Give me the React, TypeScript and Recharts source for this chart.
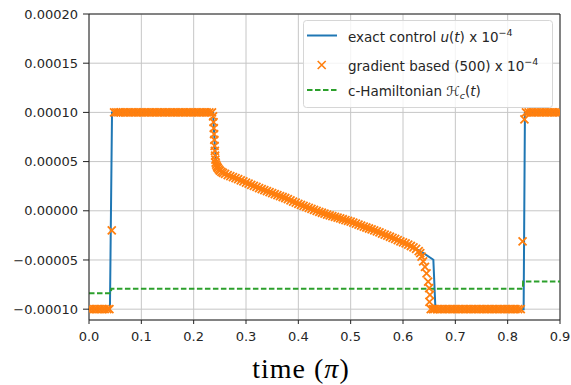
import React from 'react';
import {
  ComposedChart,
  Line,
  Scatter,
  XAxis,
  YAxis,
  CartesianGrid,
  Legend,
  ReferenceLine,
  Label,
} from 'recharts';

// tick labels
const xTicks = [0, 0.1, 0.2, 0.3, 0.4, 0.5, 0.6, 0.7, 0.8, 0.9];
const yTicks = [-0.0001, -0.00005, 0, 0.00005, 0.0001, 0.00015, 0.0002];

// values are given in units of 1e-5
const UNIT = 1e-5;

// exact control u(t) x 1e-4
const exactT = [0, 0.04, 0.044, 0.237, 0.2405, 0.2435, 0.247, 0.26, 0.3, 0.35, 0.4, 0.45, 0.5, 0.55, 0.6, 0.625, 0.639, 0.658, 0.662, 0.8305, 0.833, 0.9];
const exactV = [-10, -10, 10, 10, 6.5, 4.7, 4.3, 3.75, 2.86, 1.8, 0.7, -0.3, -1.1, -2.1, -3.2, -3.88, -4.3, -4.98, -10, -10, 10, 10];

// gradient based (500) x 1e-4
const gradT = [
  0, 0.005, 0.01, 0.015, 0.02, 0.025, 0.03, 0.035, 0.039,
  0.0435,
  0.048, 0.052, 0.056, 0.06, 0.065, 0.07, 0.075, 0.08, 0.085, 0.09, 0.095, 0.1, 0.105, 0.11, 0.115, 0.12, 0.125, 0.13, 0.135, 0.14,
  0.145, 0.15, 0.155, 0.16, 0.165, 0.17, 0.175, 0.18, 0.185, 0.19, 0.195, 0.2, 0.205, 0.21, 0.215, 0.22, 0.225, 0.23, 0.235,
  0.237, 0.238, 0.2385, 0.239, 0.2395, 0.24, 0.2405, 0.241, 0.2415, 0.242, 0.243, 0.2445,
  0.246, 0.248, 0.25, 0.253, 0.256, 0.26, 0.265, 0.27, 0.275, 0.28, 0.285, 0.29, 0.295, 0.3, 0.305, 0.31, 0.315, 0.32, 0.325,
  0.33, 0.335, 0.34, 0.345, 0.35, 0.355, 0.36, 0.365, 0.37, 0.375, 0.38, 0.385, 0.39, 0.395, 0.4, 0.405, 0.41, 0.415, 0.42,
  0.425, 0.43, 0.435, 0.44, 0.445, 0.45, 0.455, 0.46, 0.465, 0.47, 0.475, 0.48, 0.485, 0.49, 0.495, 0.5, 0.505, 0.51, 0.515,
  0.52, 0.525, 0.53, 0.535, 0.54, 0.545, 0.55, 0.555, 0.56, 0.565, 0.57, 0.575, 0.58, 0.585, 0.59, 0.595, 0.6, 0.605, 0.61,
  0.615, 0.62, 0.625, 0.63, 0.633,
  0.6355, 0.6385, 0.642, 0.645, 0.648, 0.65, 0.6515, 0.6505,
  0.653, 0.657, 0.66, 0.665, 0.67, 0.675, 0.68, 0.685, 0.69, 0.695, 0.7, 0.705, 0.71, 0.715, 0.72, 0.725, 0.73, 0.735, 0.74,
  0.745, 0.75, 0.755, 0.76, 0.765, 0.77, 0.775, 0.78, 0.785, 0.79, 0.795, 0.8, 0.805, 0.81, 0.815, 0.82, 0.825,
  0.8285, 0.832,
  0.835, 0.84, 0.845, 0.85, 0.855, 0.86, 0.865, 0.87, 0.875, 0.88, 0.885, 0.89, 0.895, 0.9,
];
const gradV = [
  -10, -10, -10, -10, -10, -10, -10, -10, -10,
  -2.0,
  10, 10, 10, 10, 10, 10, 10, 10, 10, 10, 10, 10, 10, 10, 10, 10, 10, 10, 10, 10,
  10, 10, 10, 10, 10, 10, 10, 10, 10, 10, 10, 10, 10, 10, 10, 10, 10, 10, 10,
  9.6, 9.0, 8.4, 7.8, 7.2, 6.6, 6.1, 5.6, 5.2, 4.9, 4.7, 4.5,
  4.35, 4.2, 4.08, 3.95, 3.85, 3.75, 3.63, 3.52, 3.42, 3.32, 3.22, 3.1, 2.98, 2.86, 2.75, 2.64, 2.53, 2.42, 2.31,
  2.2, 2.1, 2.0, 1.9, 1.8, 1.7, 1.6, 1.5, 1.4, 1.3, 1.18, 1.06, 0.94, 0.82, 0.7, 0.6, 0.5, 0.4, 0.3,
  0.2, 0.1, 0.0, -0.1, -0.2, -0.3, -0.38, -0.46, -0.54, -0.62, -0.7, -0.78, -0.86, -0.94, -1.02, -1.1, -1.2, -1.3, -1.4,
  -1.5, -1.6, -1.7, -1.8, -1.9, -2.0, -2.1, -2.2, -2.31, -2.42, -2.53, -2.64, -2.75, -2.86, -2.98, -3.1, -3.2, -3.32, -3.45,
  -3.58, -3.72, -3.88, -4.1, -4.3,
  -4.65, -5.15, -5.7, -6.35, -7.2, -7.85, -8.55, -9.25,
  -10, -10, -10, -10, -10, -10, -10, -10, -10, -10, -10, -10, -10, -10, -10, -10, -10, -10, -10,
  -10, -10, -10, -10, -10, -10, -10, -10, -10, -10, -10, -10, -10, -10, -10, -10, -10,
  -3.1, 9.3,
  10, 10, 10, 10, 10, 10, 10, 10, 10, 10, 10, 10, 10, 10,
];

// c-Hamiltonian H_c(t)
const hamT = [0, 0.042, 0.0425, 0.829, 0.8295, 0.9];
const hamV = [-8.37, -8.37, -7.93, -7.93, -7.19, -7.19];

const rows = (ts: number[], vs: number[]) => ts.map((t, i) => ({ t, v: vs[i] * UNIT }));
const exactData = rows(exactT, exactV);
const gradData = rows(gradT, gradV);
const hamData = rows(hamT, hamV);

const BLUE = '#1f77b4';
const ORANGE = '#ff7f0e';
const GREEN = '#2ca02c';
const TEXT = '#262626';

const fmtY = (v: number) => (Math.abs(v) < 1e-12 ? 0 : v).toFixed(5).replace('-', '\u2212');
const fmtX = (v: number) => v.toFixed(1);

const XMark = (props: any) => {
  const { cx, cy } = props;
  if (cx == null || cy == null) return null;
  const s = 4;
  return (
    <path
      d={`M${cx - s},${cy - s}L${cx + s},${cy + s}M${cx - s},${cy + s}L${cx + s},${cy - s}`}
      stroke={ORANGE}
      strokeWidth={1.8}
      fill="none"
    />
  );
};

const LegendBox = () => (
  <svg width={250} height={88} style={{ display: 'block', overflow: 'visible' }}>
    <rect x={0.5} y={0.5} width={249} height={87} rx={3} fill="#ffffff" fillOpacity={0.8} stroke="#d6d6d6" />
    <line x1={4} x2={34} y1={15.5} y2={15.5} stroke={BLUE} strokeWidth={2} />
    <text x={45} y={21.5} fontSize={13.5} fill={TEXT} fontFamily="DejaVu Sans">
      exact control <tspan fontStyle="italic">u</tspan>(<tspan fontStyle="italic">t</tspan>) x 10
      <tspan fontSize={9.5} dy={-6}>{'\u22124'}</tspan>
    </text>
    <path d="M14.7,41L22.7,49M14.7,49L22.7,41" stroke={ORANGE} strokeWidth={1.6} fill="none" />
    <text x={45} y={50.5} fontSize={13.5} fill={TEXT} fontFamily="DejaVu Sans">
      gradient based (500) x 10<tspan fontSize={9.5} dy={-6}>{'\u22124'}</tspan>
    </text>
    <line x1={4} x2={34} y1={70} y2={70} stroke={GREEN} strokeWidth={2} strokeDasharray="5.5 2.5" />
    <text x={45} y={75.5} fontSize={13.5} fill={TEXT} fontFamily="DejaVu Sans">
      c-Hamiltonian <tspan fontStyle="italic">{'\u210B'}</tspan>
      <tspan fontSize={9.5} dy={3} fontStyle="italic">c</tspan>
      <tspan dy={-3}>(</tspan>
      <tspan fontStyle="italic">t</tspan>)
    </text>
  </svg>
);

export default function App() {
  return (
    <div style={{ position: 'absolute', left: 0, top: 0, width: 571, height: 385, background: '#fff' }}>
      <ComposedChart
        width={571}
        height={385}
        margin={{ top: 14, right: 11, bottom: 0, left: 0 }}
        style={{ fontFamily: 'DejaVu Sans' }}
      >
        <CartesianGrid stroke="#c6c6c6" strokeWidth={1} />
        <XAxis
          dataKey="t"
          type="number"
          domain={[0, 0.9]}
          ticks={xTicks}
          tickFormatter={fmtX}
          allowDataOverflow
          height={65}
          interval={0}
          tickSize={4}
          tickMargin={8}
          stroke="#000"
          axisLine={{ stroke: '#222' }}
          tickLine={{ stroke: '#222' }}
          tick={{ fill: TEXT, fontSize: 13, fontFamily: 'DejaVu Sans' }}
        >
          <Label
            content={() => (
              <text
                x={301}
                y={378}
                textAnchor="middle"
                fontFamily="Liberation Serif"
                fontSize={28}
                letterSpacing={1}
                fill="#000"
              >
                time (<tspan fontStyle="italic">π</tspan>)
              </text>
            )}
          />
        </XAxis>
        <YAxis
          dataKey="v"
          type="number"
          domain={[-0.000111, 0.0002]}
          ticks={yTicks}
          tickFormatter={fmtY}
          allowDataOverflow
          width={89}
          interval={0}
          tickSize={6}
          tickMargin={5}
          axisLine={{ stroke: '#222' }}
          tickLine={{ stroke: '#222' }}
          tick={{ fill: TEXT, fontSize: 13, fontFamily: 'DejaVu Sans' }}
        />
        <ReferenceLine y={0.0002} stroke="#222" strokeWidth={1} />
        <ReferenceLine x={0.9} stroke="#222" strokeWidth={1} />
        <Line
          data={exactData}
          dataKey="v"
          type="linear"
          stroke={BLUE}
          strokeWidth={2}
          dot={false}
          activeDot={false}
          isAnimationActive={false}
        />
        <Scatter data={gradData} dataKey="v" shape={XMark} isAnimationActive={false} />
        <Line
          data={hamData}
          dataKey="v"
          type="linear"
          stroke={GREEN}
          strokeWidth={2}
          strokeDasharray="5.5 2.5"
          dot={false}
          activeDot={false}
          isAnimationActive={false}
        />
        <Legend
          layout="vertical"
          align="center"
          verticalAlign="middle"
          wrapperStyle={{ left: 303, top: 20, width: 250, height: 88 }}
          content={() => <LegendBox />}
        />
      </ComposedChart>
    </div>
  );
}
